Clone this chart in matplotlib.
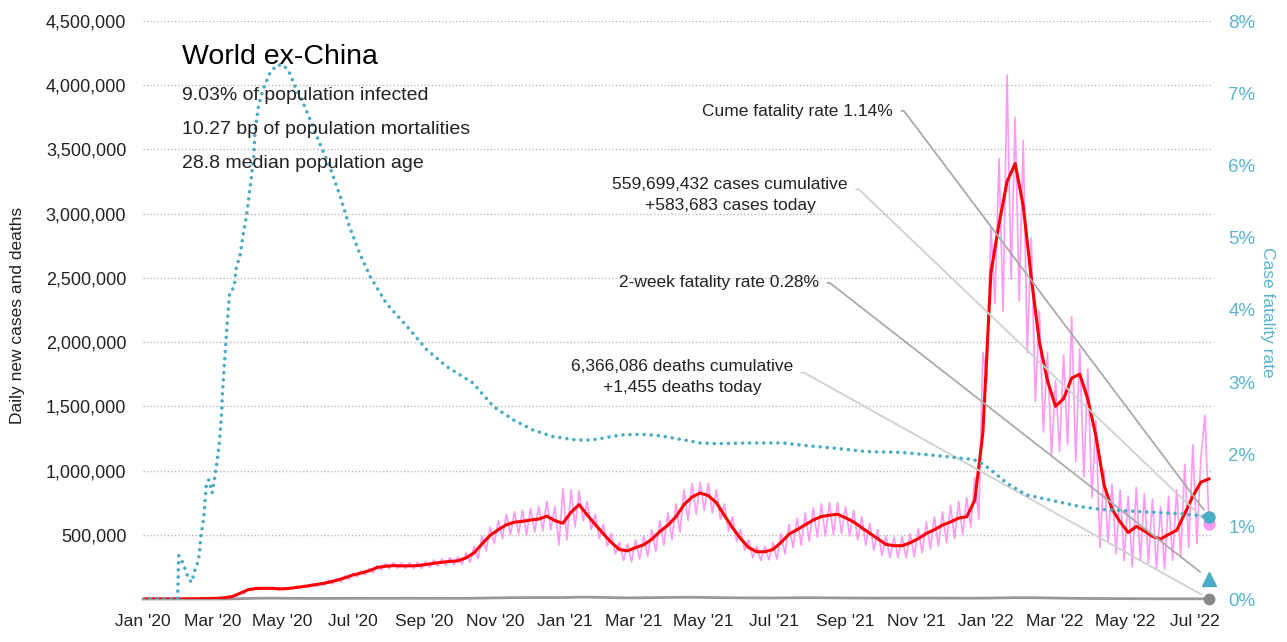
import matplotlib
matplotlib.use('Agg')
import matplotlib.pyplot as plt
import matplotlib.dates as mdates
import pandas as pd
from matplotlib.ticker import FuncFormatter

FONT = ['Liberation Sans', 'DejaVu Sans']
plt.rcParams['font.family'] = FONT

TEAL = '#4bacc6'
PINK = '#ff99f5'
RED = '#ff0000'
GRAY = '#999999'

# ---------------- data ----------------
week_start = '2020-01-01'
n_weeks = 133
end_date = '2022-07-13'

# 7-day average of daily new cases (thousands), weekly samples
avg_cases_k = [
    0, 0, 0, 0, 0.3, 0.5, 1, 2, 3, 5,
    9, 18, 44, 72, 82, 83, 83, 78, 82, 90,
    98, 108, 118, 130, 146, 165, 187, 202, 220, 245,
    255, 260, 258, 258, 260, 268, 278, 286, 293, 297,
    320, 360, 430, 496, 540, 578, 598, 605, 615, 622,
    645, 610, 590, 675, 735, 655, 580, 508, 440, 385,
    375, 400, 422, 465, 525, 575, 640, 735, 795, 825,
    805, 750, 650, 555, 470, 400, 368, 368, 385, 440,
    505, 540, 578, 615, 642, 652, 660, 632, 600, 555,
    512, 470, 425, 415, 415, 438, 470, 510, 540, 575,
    600, 630, 640, 770, 1290, 2540, 2920, 3250, 3390, 3060,
    2500, 2000, 1700, 1500, 1560, 1720, 1750, 1555, 1270, 890,
    700, 600, 518, 565, 530, 487, 467, 502, 535, 665,
    800, 910, 935,
]

# daily new cases (thousands), half-week samples (weekly high, mid-week low)
daily_cases_k = [
    0, 0, 0, 0, 0, 0, 0, 0, 0.4, 0.2, 0.7, 0.4, 1.5, 0.8, 2.5, 1.5, 4, 2.5, 7, 4,
    12, 7, 22, 15, 50, 40, 80, 65, 92, 75, 90, 76, 92, 75, 86, 72, 90, 76, 98, 82,
    108, 90, 118, 98, 128, 108, 145, 118, 160, 132, 180, 152, 200, 172, 218, 188, 238, 204, 262, 226,
    275, 236, 282, 240, 280, 238, 282, 236, 284, 238, 292, 246, 304, 255, 312, 262, 322, 266, 328, 270,
    360, 285, 410, 315, 490, 375, 560, 430, 610, 470, 660, 500, 680, 505, 690, 500, 705, 520, 720, 530,
    760, 540, 720, 420, 860, 460, 850, 560, 840, 610, 760, 540, 660, 470, 580, 410, 510, 350, 440, 300,
    430, 290, 460, 310, 490, 330, 540, 370, 610, 420, 670, 460, 740, 520, 850, 610, 900, 660, 910, 690,
    900, 670, 850, 620, 740, 530, 640, 450, 540, 380, 460, 320, 410, 300, 410, 305, 440, 310, 510, 350,
    580, 400, 630, 420, 670, 450, 710, 480, 740, 490, 750, 500, 750, 510, 720, 490, 690, 460, 640, 420,
    590, 380, 540, 340, 490, 320, 480, 320, 485, 320, 510, 330, 550, 360, 600, 390, 640, 410, 680, 440,
    730, 470, 760, 500, 790, 560, 950, 620, 1920, 1700, 2900, 2300, 3430, 2240, 4080, 2490, 3750, 2320, 3570, 1920,
    2810, 1540, 2240, 1300, 1920, 1110, 1700, 1150, 1900, 1200, 2200, 1070, 1950, 950, 1790, 787, 1390, 400, 1000, 450,
    896, 350, 850, 300, 800, 250, 870, 300, 820, 280, 780, 230, 720, 230, 800, 300, 850, 330, 1050, 400,
    1200, 430, 1100, 1430,
    583.683,
]

# daily deaths (thousands), weekly samples
deaths_k = [
    0, 0, 0, 0, 0, 0, 0, 0, 0, 0.1,
    0.3, 1, 2.5, 4.5, 6, 6.5, 6.5, 6, 5.5, 5,
    4.6, 4.5, 4.5, 4.5, 4.5, 4.8, 5, 5.3, 5.5, 5.6,
    5.8, 5.8, 5.6, 5.5, 5.4, 5.3, 5.3, 5.2, 5.2, 5.3,
    5.5, 6, 6.8, 7.8, 8.8, 9.8, 10.5, 10.8, 11, 11.3,
    11.6, 11, 11.5, 13, 14.2, 14.3, 13.5, 12, 10.5, 9.5,
    9, 9, 9.5, 10.5, 11.5, 12.5, 13, 13.5, 13.5, 12.5,
    11.5, 10.5, 10, 9.5, 8.5, 8, 8, 8, 8.2, 8.6,
    9.2, 9.6, 10, 10, 9.8, 9.3, 8.6, 8, 7.4, 7,
    6.8, 6.7, 6.7, 6.8, 7, 7.2, 7.3, 7.2, 7, 6.8,
    6.5, 6.2, 6.2, 6.5, 6.8, 7.5, 8.5, 9.5, 10.2, 10.5,
    10, 9, 7.5, 6.5, 5.5, 4.8, 4.2, 3.8, 3.5, 3,
    2.7, 2.4, 2.2, 2, 1.9, 1.8, 1.8, 1.7, 1.7, 1.8,
    1.8, 1.9, 1.455,
]

# cumulative case fatality rate (%)
cfr_dates = [
    '2020-01-01', '2020-01-31', '2020-02-01', '2020-02-05', '2020-02-07', '2020-02-09',
    '2020-02-12', '2020-02-13', '2020-02-15', '2020-02-18', '2020-02-19', '2020-02-20',
    '2020-02-22', '2020-02-23', '2020-02-24', '2020-02-25', '2020-02-27', '2020-03-01',
    '2020-03-03', '2020-03-05', '2020-03-07', '2020-03-09', '2020-03-10', '2020-03-12',
    '2020-03-14', '2020-03-16', '2020-03-20', '2020-03-22', '2020-03-25', '2020-03-28',
    '2020-03-31', '2020-04-03', '2020-04-06', '2020-04-07', '2020-04-10', '2020-04-14',
    '2020-04-20', '2020-04-26', '2020-05-02', '2020-05-07', '2020-05-13', '2020-05-19',
    '2020-05-25', '2020-06-02', '2020-06-11', '2020-06-20', '2020-06-28', '2020-07-07',
    '2020-07-16', '2020-07-30', '2020-08-17', '2020-09-03', '2020-09-20', '2020-10-13',
    '2020-10-31', '2020-11-17', '2020-12-04', '2020-12-21', '2021-01-11', '2021-01-23',
    '2021-01-31', '2021-02-18', '2021-03-07', '2021-03-24', '2021-04-11', '2021-04-28',
    '2021-05-12', '2021-06-10', '2021-07-09', '2021-07-24', '2021-08-21', '2021-09-19',
    '2021-10-18', '2021-11-16', '2021-12-21', '2021-12-29', '2022-01-07', '2022-01-19',
    '2022-02-05', '2022-02-28', '2022-03-23', '2022-04-10', '2022-05-14', '2022-06-18',
    '2022-07-13',
]
cfr_pct = [
    0, 0, 0.60, 0.49, 0.39, 0.30,
    0.23, 0.28, 0.40, 0.53, 0.64, 0.85,
    1.05, 1.19, 1.40, 1.60, 1.65, 1.47,
    1.67, 1.88, 2.13, 2.53, 2.89, 3.35,
    3.82, 4.23, 4.32, 4.60, 4.74, 5.06,
    5.34, 5.71, 6.12, 6.45, 6.81, 7.05,
    7.28, 7.39, 7.39, 7.28, 7.05, 6.86,
    6.63, 6.31, 5.98, 5.57, 5.15, 4.78,
    4.46, 4.09, 3.77, 3.45, 3.22, 2.99,
    2.66, 2.48, 2.34, 2.25, 2.20, 2.20,
    2.22, 2.27, 2.28, 2.26, 2.21, 2.16,
    2.15, 2.16, 2.16, 2.13, 2.09, 2.04,
    2.03, 1.99, 1.93, 1.87, 1.76, 1.60,
    1.44, 1.36, 1.28, 1.24, 1.21, 1.18,
    1.14,
]

# headline figures
title = 'World ex-China'
subtitle_lines = ['9.03% of population infected',
                  '10.27 bp of population mortalities',
                  '28.8 median population age']
cume_cfr = 1.14
two_week_cfr = 0.28
cases_today = 583683
deaths_today = 1455
cases_label = '559,699,432 cases cumulative\n+583,683 cases today'
deaths_label = '6,366,086 deaths cumulative\n+1,455 deaths today'

# ---------------- build series ----------------
weeks = pd.date_range(week_start, periods=n_weeks, freq='7D')
halfweeks = pd.date_range(week_start, periods=len(daily_cases_k), freq='84h')
avg_cases = [v * 1000 for v in avg_cases_k]
daily_cases = [v * 1000 for v in daily_cases_k]
deaths = [v * 1000 for v in deaths_k]
cfr_x = pd.to_datetime(cfr_dates)
end = mdates.date2num(pd.Timestamp(end_date))

# ---------------- figure ----------------
W, H = 1287, 642
fig = plt.figure(figsize=(W / 100, H / 100), dpi=100)
L, R, T, B = 143, 1213, 21, 599
ax = fig.add_axes([L / W, 1 - B / H, (R - L) / W, (B - T) / H])
ax2 = ax.twinx()

ax.plot(weeks, deaths, color=GRAY, lw=2, zorder=2, clip_on=False)
ax.plot(halfweeks, daily_cases, color=PINK, lw=1.2, zorder=3)
ax.plot(weeks, avg_cases, color=RED, lw=2.2, zorder=4)
ax2.plot(cfr_x, cfr_pct, color=TEAL, lw=2.6, linestyle=(0, (0.01, 1.95)),
         dash_capstyle='round', zorder=5)

# end markers
ax.plot([end], [cases_today], 'o', color=PINK, ms=8, clip_on=False, zorder=6)
ax.plot([end], [deaths_today], 'o', color='#888888', ms=7.5, clip_on=False, zorder=6)
ax2.plot([end], [cume_cfr], 'o', color=TEAL, ms=8, clip_on=False, zorder=7)
ax2.plot([end], [two_week_cfr], '^', color=TEAL, ms=9.5, clip_on=False, zorder=7)

ax.set_xlim(pd.Timestamp('2020-01-01'), pd.Timestamp('2022-07-16 12:00'))
ax.set_ylim(0, 4.5e6)
ax2.set_ylim(0, 8)

ax.set_yticks([i * 5e5 for i in range(1, 10)])
ax.yaxis.set_major_formatter(FuncFormatter(lambda v, p: f'{int(v):,}'))
ax2.set_yticks(range(0, 9))
ax2.yaxis.set_major_formatter(FuncFormatter(lambda v, p: f'{int(v)}%'))

ax.xaxis.set_major_locator(mdates.MonthLocator(bymonth=[1, 3, 5, 7, 9, 11]))
ax.xaxis.set_major_formatter(mdates.DateFormatter("%b '%y"))

for a in (ax, ax2):
    for s in a.spines.values():
        s.set_visible(False)
ax.tick_params(axis='y', length=0, labelsize=13, colors='#222222', pad=12)
ax.tick_params(axis='x', length=0, labelsize=12.5, colors='#222222', pad=11)
ax2.tick_params(axis='y', length=0, labelsize=13.5, labelcolor='#5ab4d0', pad=11)

ax.yaxis.grid(True, linestyle=(0, (1, 1.5)), color='#bbbbbb', lw=1)
ax.set_axisbelow(True)

fig.text(18 / W, 1 - 315 / H, 'Daily new cases and deaths', rotation=90,
         ha='center', va='center', fontsize=12.5, color='#222222')
fig.text(1268 / W, 1 - 312 / H, 'Case fatality rate', rotation=270,
         ha='center', va='center', fontsize=12.5, color='#5ab4d0')

# title block
fig.text(182 / W, 1 - 57 / H, title, fontsize=20.5, ha='left', va='center', color='#000000')
for i, line in enumerate(subtitle_lines):
    fig.text(182 / W, 1 - (96 + 34 * i) / H, line, fontsize=14, ha='left',
             va='center', color='#222222')

def frac(px, py):
    return ((px - L) / (R - L), (B - py) / (B - T))

ann_fs = 12.5
arc = 'arc,angleA=0,armA=11,angleB=0,armB=0,rad=0'
ax2.annotate(f'Cume fatality rate {cume_cfr:.2f}%', xy=(end, cume_cfr), xycoords='data',
             xytext=frac(893, 111), textcoords='axes fraction', ha='right', va='center',
             fontsize=ann_fs, color='#222222',
             arrowprops=dict(arrowstyle='-', color='#aaaaaa', lw=1.3, relpos=(1, 0.5),
                             shrinkA=4, shrinkB=6, connectionstyle=arc))
ax2.annotate(f'2-week fatality rate {two_week_cfr:.2f}%', xy=(end, two_week_cfr), xycoords='data',
             xytext=frac(819, 283), textcoords='axes fraction', ha='right', va='center',
             fontsize=ann_fs, color='#222222',
             arrowprops=dict(arrowstyle='-', color='#aaaaaa', lw=1.3, relpos=(1, 0.5),
                             shrinkA=4, shrinkB=8, connectionstyle=arc))
ax2.annotate(cases_label, xy=(end, cases_today), xycoords=ax.transData,
             xytext=frac(730, 195), textcoords='axes fraction', ha='center', va='center',
             multialignment='center', linespacing=1.5,
             fontsize=ann_fs, color='#222222',
             arrowprops=dict(arrowstyle='-', color='#d0d0d0', lw=1.3, relpos=(1, 0.66),
                             shrinkA=4, shrinkB=6, connectionstyle=arc))
ax2.annotate(deaths_label, xy=(end, deaths_today), xycoords=ax.transData,
             xytext=frac(682, 377), textcoords='axes fraction', ha='center', va='center',
             multialignment='center', linespacing=1.5,
             fontsize=ann_fs, color='#222222',
             arrowprops=dict(arrowstyle='-', color='#d0d0d0', lw=1.3, relpos=(1, 0.62),
                             shrinkA=4, shrinkB=6, connectionstyle=arc))

fig.savefig('out.png', dpi=100)
